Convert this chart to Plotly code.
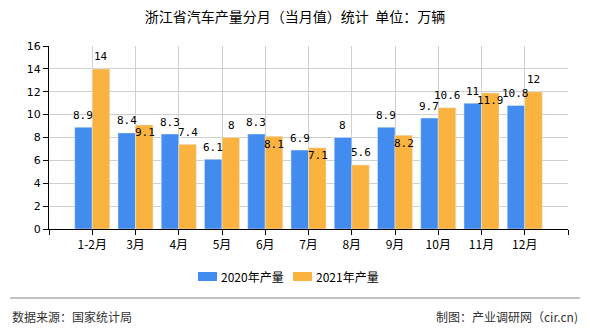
import plotly.graph_objects as go

categories = ["1-2月", "3月", "4月", "5月", "6月", "7月", "8月", "9月", "10月", "11月", "12月"]
prod_2020 = [8.9, 8.4, 8.3, 6.1, 8.3, 6.9, 8, 8.9, 9.7, 11, 10.8]
prod_2021 = [14, 9.1, 7.4, 8, 8.1, 7.1, 5.6, 8.2, 10.6, 11.9, 12]
label_inside_2021 = [False, True, False, False, True, True, False, True, False, True, False]
y_ticks = [0, 2, 4, 6, 8, 10, 12, 14, 16]
series_names = ["2020年产量", "2021年产量"]

BLUE = "#428BEF"
ORANGE = "#FBB33F"
xpos = list(range(1, len(categories) + 1))

# plot area in pixels (for paper-coordinate conversion of decorations)
L, R, T, B = 49, 568, 46, 229
def px(x):
    return (x - L) / (R - L)
def py(y):
    return (B - y) / (B - T)

fig = go.Figure()
fig.add_trace(go.Bar(x=xpos, y=prod_2020, name=series_names[0], marker_color=BLUE, showlegend=False))
fig.add_trace(go.Bar(x=xpos, y=prod_2021, name=series_names[1], marker_color=ORANGE, showlegend=False))

lab_font = dict(family="DejaVu Sans Mono", size=11, color="#000")
anns = []
for i, v in enumerate(prod_2020):
    anns.append(dict(x=xpos[i], y=v, text=f"{v:g}", showarrow=False, xshift=-9, yshift=12,
                     yanchor="middle", font=lab_font))
for i, v in enumerate(prod_2021):
    anns.append(dict(x=xpos[i], y=v, text=f"{v:g}", showarrow=False, xshift=9,
                     yshift=-8 if label_inside_2021[i] else 12, yanchor="middle", font=lab_font))

legend_font = dict(family="Noto Sans CJK SC", size=12, color="#000")
shapes = [
    dict(type="line", xref="paper", yref="paper", x0=px(10), x1=px(580),
         y0=py(298), y1=py(298), line=dict(color="#888", width=1)),
    dict(type="rect", xref="paper", yref="paper", x0=px(198), x1=px(217), y0=py(281), y1=py(272),
         fillcolor=BLUE, line=dict(width=0)),
    dict(type="rect", xref="paper", yref="paper", x0=px(293), x1=px(312), y0=py(281), y1=py(272),
         fillcolor=ORANGE, line=dict(width=0)),
]
anns += [
    dict(text=series_names[0], xref="paper", yref="paper", x=px(219), y=py(276.5),
         xanchor="left", yanchor="middle", showarrow=False, font=legend_font),
    dict(text=series_names[1], xref="paper", yref="paper", x=px(314), y=py(276.5),
         xanchor="left", yanchor="middle", showarrow=False, font=legend_font),
    dict(text="数据来源：国家统计局", xref="paper", yref="paper", x=px(10), y=py(316),
         xanchor="left", yanchor="middle", showarrow=False,
         font=dict(family="Noto Sans CJK SC", size=12, color="#333")),
    dict(text="制图：产业调研网（cir.cn)", xref="paper", yref="paper", x=px(580), y=py(316),
         xanchor="right", yanchor="middle", showarrow=False,
         font=dict(family="Noto Sans CJK SC", size=12, color="#333")),
]

fig.update_layout(
    width=590, height=330,
    margin=dict(l=L, r=590 - R, t=T, b=330 - B),
    paper_bgcolor="white", plot_bgcolor="white",
    barmode="group", bargap=0.19, bargroupgap=0,
    title=dict(text="浙江省汽车产量分月（当月值）统计  单位：万辆", x=0.5, xanchor="center",
               y=1 - 17 / 330, yanchor="middle",
               font=dict(family="Noto Sans CJK SC", size=14, color="#000")),
    font=dict(family="Noto Sans CJK SC", size=11, color="#000"),
    showlegend=False,
    annotations=anns,
    shapes=shapes,
)

fig.update_xaxes(
    range=[0, 12], tickmode="array", tickvals=[0] + xpos + [12], ticktext=[""] + categories + [""],
    showgrid=True, gridcolor="#d0d0d0", gridwidth=1,
    showline=True, linecolor="#000", linewidth=1,
    ticks="outside", ticklen=5, tickcolor="#000",
    tickfont=dict(family="Noto Sans CJK SC", size=12, color="#000"),
    zeroline=False, fixedrange=True,
)
fig.update_yaxes(
    range=[0, 16], tickmode="array", tickvals=y_ticks,
    showgrid=True, gridcolor="#d0d0d0", gridwidth=1,
    showline=True, linecolor="#000", linewidth=1,
    ticks="outside", ticklen=5, tickcolor="#000",
    tickfont=dict(family="DejaVu Sans", size=11, color="#000"),
    zeroline=False, fixedrange=True,
)

fig.write_html("out.html")
